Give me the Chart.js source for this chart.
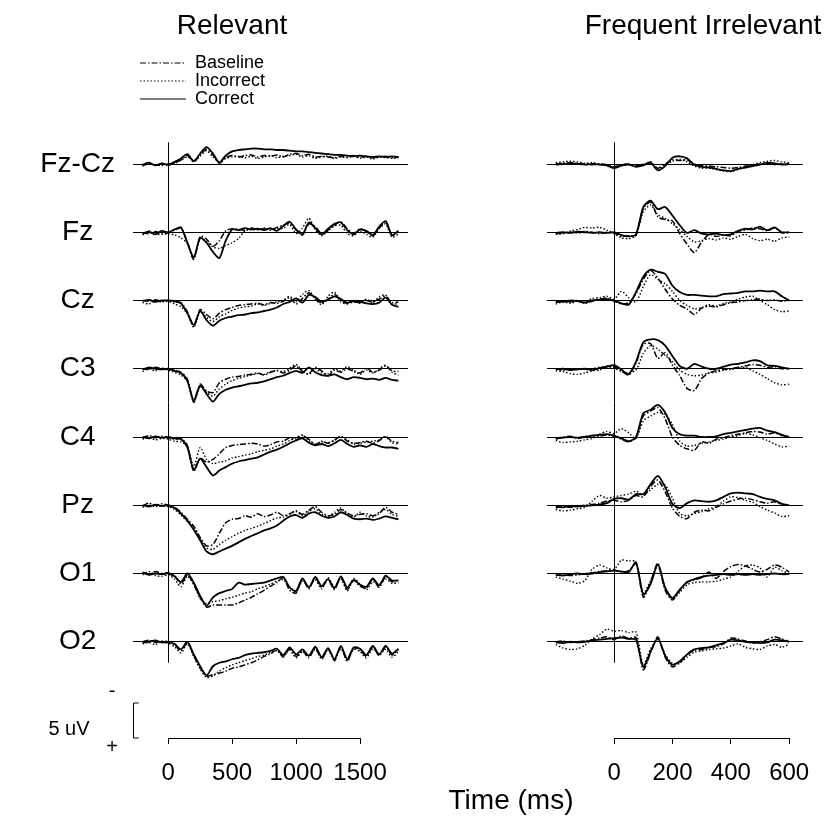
<!DOCTYPE html>
<html>
<head>
<meta charset="UTF-8">
<title>ERP Relevant / Frequent Irrelevant</title>
<script src="https://cdn.jsdelivr.net/npm/chart.js"></script>
<style>
  body { margin: 0; background: #fff; }
  #wrap { position: relative; width: 825px; height: 831px; font-family: "Liberation Sans", Arial, sans-serif; color: #000; }
  canvas { position: absolute; top: 0; }
  .lbl { position: absolute; transform: translate(-50%, -50%); white-space: nowrap; line-height: 1; }
</style>
</head>
<body>
<div id="wrap">
  <canvas id="relChart" width="420" height="831" style="left:0px"></canvas>
  <canvas id="irrChart" width="405" height="831" style="left:420px"></canvas>
  <div class="lbl" style="left:232px;top:25px;font-size:28px">Relevant</div>
  <div class="lbl" style="left:703px;top:25px;font-size:28px">Frequent Irrelevant</div>
  <div class="lbl" style="left:69px;top:728px;font-size:20px">5 uV</div>
  <div class="lbl" style="left:112px;top:690px;font-size:20px">-</div>
  <div class="lbl" style="left:112px;top:746px;font-size:20px">+</div>
  <div class="lbl" style="left:511px;top:800px;font-size:28px">Time (ms)</div>
</div>
<script>
var channels = ['Fz-Cz', 'Fz', 'Cz', 'C3', 'C4', 'Pz', 'O1', 'O2'];

// time points (ms)
var relTimes = [-200, -150, -100, -50, 0, 50, 100, 150, 200, 250, 300, 350, 400, 450, 500, 550, 600, 650, 700, 750,
                800, 850, 900, 950, 1000, 1050, 1100, 1150, 1200, 1250, 1300, 1350, 1400, 1450, 1500, 1550, 1600, 1650, 1700, 1750, 1800];
var irrTimes = [-200, -175, -150, -125, -100, -75, -50, -25, 0, 25, 50, 75, 100, 125, 150, 175, 200, 225, 250, 275,
                300, 325, 350, 375, 400, 425, 450, 475, 500, 525, 550, 575, 600];
var relTicks = [0, 500, 1000, 1500];
var irrTicks = [0, 200, 400, 600];

// amplitudes in uV (negative up), one row per channel
var relBaseline = [
  [0.2, 0.0, 0.1, 0.2, 0.0, -0.2, -0.6, -1.2, -0.3, -1.3, -2.1, -1.3, -0.1, -0.9, -1.2, -1.0, -1.2, -1.3, -1.0, -1.2, -1.1, -1.3, -1.0, -1.4, -1.5, -1.2, -1.4, -1.0, -1.1, -1.0, -0.9, -1.1, -1.0, -1.2, -1.0, -1.1, -0.9, -1.0, -1.1, -0.9, -1.0],
  [0.1, 0.2, -0.1, 0.2, 0.1, -0.3, -0.6, 1.4, 3.9, 0.6, 1.0, 2.0, 1.2, -0.2, -0.5, -0.4, -0.3, -0.6, -0.4, -0.5, -0.3, -0.7, -1.0, -1.3, -0.3, 0.4, -1.2, -0.8, 0.2, -0.3, -1.0, -1.5, -0.5, 0.2, -0.5, -0.1, 0.5, -0.6, -1.5, 0.5, -0.1],
  [0.0, 0.1, -0.1, 0.1, 0.0, 0.2, 0.3, 1.6, 3.7, 1.3, 2.0, 2.6, 1.8, 1.3, 1.0, 0.7, 0.6, 0.5, 0.4, 0.6, 0.3, 0.4, 0.1, -0.4, 0.5, -0.3, -1.1, -0.3, 0.4, -0.2, -0.9, 0.0, 0.4, 0.2, 0.3, 0.0, 0.2, -0.2, -0.6, 0.3, 0.2],
  [0.0, 0.1, -0.2, 0.0, 0.1, 0.2, 0.5, 1.5, 4.8, 2.2, 3.2, 3.4, 2.0, 1.5, 1.2, 1.1, 0.9, 0.8, 0.6, 0.9, 0.5, 0.3, 0.6, 0.2, -0.4, 0.4, 0.7, -0.2, 0.3, 1.0, 0.2, 0.5, 0.0, 0.4, 0.6, -0.1, 0.5, 0.2, -0.4, 0.3, 0.4],
  [0.1, -0.2, 0.1, -0.1, 0.1, 0.3, 0.2, 1.2, 4.9, 3.0, 3.6, 3.2, 2.4, 1.5, 1.2, 1.1, 1.0, 0.9, 1.0, 1.3, 1.1, 0.7, 0.6, 0.1, 0.4, -0.2, 0.3, 1.1, 0.6, 0.9, 0.4, -0.1, 0.6, 0.9, 0.8, 0.6, 0.9, 0.5, -0.1, 0.6, 0.8],
  [0.1, -0.3, 0.0, -0.2, 0.0, 0.3, 1.0, 2.0, 3.0, 4.6, 5.8, 5.6, 4.0, 2.5, 2.0, 1.9, 1.5, 1.7, 1.2, 1.6, 1.4, 1.0, 1.5, 1.2, 0.8, 1.3, 0.7, 0.2, 1.0, 1.5, 1.3, 0.6, 1.1, 1.5, 1.3, 1.2, 1.5, 1.2, 0.3, 1.0, 1.3],
  [-0.2, 0.1, -0.3, 0.0, -0.1, 0.3, 1.5, 0.2, 1.6, 3.4, 4.8, 4.5, 4.5, 4.5, 4.5, 4.2, 3.8, 3.4, 2.9, 2.4, 1.8, 1.3, 0.6, 2.4, 2.8, 0.8, 2.2, 0.6, 2.0, 0.9, 2.3, 0.5, 2.3, 1.0, 1.8, 2.1, 0.8, 2.0, 0.4, 1.2, 0.9],
  [0.0, -0.2, 0.1, -0.1, 0.0, 0.4, 1.3, 0.1, 2.0, 3.7, 4.9, 4.7, 4.5, 4.2, 3.8, 3.6, 3.3, 3.0, 2.6, 2.1, 1.7, 1.2, 2.2, 1.0, 2.1, 1.3, 2.3, 0.9, 2.5, 1.0, 2.7, 0.8, 2.8, 0.9, 1.2, 2.1, 0.7, 2.0, 0.8, 1.9, 1.1]
];
var relIncorrect = [
  [0.3, -0.1, 0.2, 0.0, 0.2, -0.1, -0.5, -1.0, -0.5, -1.1, -1.9, -1.0, -0.3, -0.8, -1.0, -1.1, -0.9, -1.1, -0.8, -1.0, -1.2, -0.9, -1.1, -1.2, -1.4, -1.0, -1.2, -0.8, -1.0, -1.1, -0.8, -1.0, -0.9, -1.1, -0.8, -1.0, -0.7, -1.0, -0.9, -0.8, -0.9],
  [0.4, -0.2, 0.3, 0.3, 0.2, 0.4, 0.8, 1.6, 3.5, 0.9, 1.3, 2.1, 2.3, 1.9, 1.5, 0.9, -0.2, -0.4, -0.3, -0.6, -0.4, -0.5, -0.6, -1.1, 0.2, -0.6, -2.0, -0.4, 0.5, -0.2, -0.9, -1.0, 0.2, 0.5, -0.2, 0.3, 0.7, -0.5, -1.2, 0.7, 0.3],
  [0.3, 0.5, 0.1, 0.2, 0.1, 0.5, 0.9, 1.9, 3.8, 1.6, 2.4, 3.0, 2.3, 1.9, 1.4, 1.1, 0.9, 0.8, 0.5, 0.7, 0.4, 0.2, 0.0, -0.6, 0.2, -0.9, -1.4, -0.2, 0.6, -0.6, -1.2, 0.2, 0.5, 0.0, 0.4, -0.2, 0.3, -0.5, -0.8, 0.5, 0.4],
  [0.4, 0.0, 0.3, -0.1, 0.2, 0.5, 0.9, 1.8, 4.4, 2.6, 3.4, 3.9, 2.9, 2.2, 1.7, 1.4, 1.1, 0.9, 0.7, 0.8, 0.4, 0.2, 0.4, -0.1, -0.6, 0.3, 0.8, 0.0, 0.6, 0.7, 0.0, 0.3, -0.3, 0.2, 0.8, 0.2, 0.6, 0.0, -0.5, 0.5, 0.9],
  [0.3, 0.1, 0.4, 0.2, 0.3, 0.6, 0.7, 1.3, 4.2, 1.5, 3.2, 3.8, 3.6, 3.4, 3.0, 2.8, 2.6, 2.4, 2.1, 1.9, 1.7, 1.3, 1.0, 0.5, 0.1, -0.3, 0.5, 1.0, 0.7, 0.8, 0.5, 0.0, 0.4, 1.0, 0.9, 0.7, 0.6, 0.4, 0.0, 0.8, 1.0],
  [0.3, 0.0, 0.2, 0.1, 0.2, 0.6, 1.4, 2.3, 3.2, 4.8, 6.1, 6.3, 5.6, 5.0, 4.5, 4.0, 3.6, 3.3, 3.0, 2.6, 2.2, 1.8, 1.7, 1.3, 0.9, 1.5, 0.9, 0.5, 1.3, 1.6, 1.0, 0.4, 1.3, 1.7, 1.0, 1.5, 1.7, 1.0, 0.6, 1.3, 1.6],
  [0.2, -0.3, 0.3, 0.4, 0.2, 0.8, 1.9, 0.4, 1.5, 3.6, 4.3, 4.0, 3.9, 3.6, 3.4, 3.1, 2.8, 2.6, 2.2, 1.9, 1.5, 1.1, 0.9, 1.9, 2.6, 1.1, 1.8, 0.9, 2.2, 0.6, 1.9, 0.8, 2.5, 0.7, 1.5, 2.3, 1.2, 1.5, 0.8, 1.4, 1.3],
  [0.3, 0.1, 0.4, 0.0, 0.2, 0.7, 1.6, 0.3, 2.1, 3.9, 5.1, 4.9, 4.2, 3.7, 3.3, 3.0, 2.7, 2.4, 2.1, 1.9, 1.5, 1.3, 2.0, 1.2, 2.3, 1.4, 2.0, 1.1, 2.3, 1.3, 2.4, 1.0, 2.6, 1.1, 1.4, 2.3, 1.0, 1.8, 1.1, 2.2, 1.4]
];
var relCorrect = [
  [0.1, -0.2, 0.2, -0.1, 0.1, -0.3, -0.8, -1.4, -0.4, -1.5, -2.4, -1.5, -0.2, -1.2, -1.8, -2.0, -2.1, -2.2, -2.2, -2.1, -2.1, -2.0, -2.0, -1.9, -1.8, -1.8, -1.7, -1.6, -1.5, -1.4, -1.3, -1.3, -1.2, -1.1, -1.2, -1.1, -1.0, -1.1, -1.0, -1.1, -1.0],
  [0.2, -0.1, 0.3, -0.2, 0.0, -0.4, -0.7, 1.5, 3.6, 0.8, 1.5, 2.8, 3.7, 1.2, -0.4, -0.3, -0.6, -0.4, -0.5, -0.3, -0.6, -0.2, -0.9, -1.5, -0.4, 0.3, -1.4, -0.6, 0.3, -0.5, -1.2, -1.4, -0.3, 0.3, -0.4, -0.2, 0.4, -0.8, -1.6, 0.4, -0.2],
  [0.1, -0.1, 0.2, 0.0, 0.0, 0.1, 0.4, 1.8, 3.5, 1.5, 2.8, 3.6, 2.9, 2.5, 2.3, 2.1, 2.0, 1.8, 1.7, 1.5, 1.3, 1.0, 0.5, 0.2, -0.3, 0.3, -0.8, -0.5, 0.2, -0.1, -0.6, -0.2, 0.3, 0.1, 0.2, 0.4, 0.5, 0.3, -0.4, 0.6, 0.9],
  [0.1, -0.2, 0.0, 0.1, 0.0, 0.3, 0.6, 1.7, 4.6, 2.4, 3.6, 4.7, 3.6, 3.0, 2.7, 2.5, 2.3, 2.1, 2.0, 1.8, 1.5, 1.2, 1.0, 0.6, 0.3, 0.6, -0.2, 0.5, 0.9, 1.0, 0.8, 1.2, 1.5, 1.2, 1.3, 1.5, 1.4, 1.6, 1.3, 1.6, 1.7],
  [0.0, 0.2, -0.1, 0.1, 0.0, 0.2, 0.3, 1.5, 4.7, 3.1, 4.3, 5.5, 4.8, 4.3, 3.8, 3.5, 3.3, 3.1, 2.9, 2.5, 2.1, 1.8, 1.4, 0.9, 0.5, 0.2, 0.8, 1.2, 1.0, 1.3, 0.9, 0.4, 1.0, 1.4, 1.2, 1.4, 1.0, 1.3, 1.5, 1.5, 1.7],
  [0.0, 0.2, -0.1, 0.1, 0.0, 0.4, 1.2, 2.2, 3.5, 5.0, 6.6, 7.0, 6.6, 6.2, 5.8, 5.3, 4.8, 4.4, 4.0, 3.6, 3.3, 2.9, 2.2, 1.6, 1.4, 1.8, 1.2, 1.0, 1.5, 1.8, 1.6, 1.0, 1.4, 1.9, 2.0, 1.9, 2.1, 1.9, 1.6, 1.8, 2.0],
  [-0.1, 0.2, 0.0, 0.1, 0.0, 0.4, 1.2, 0.0, 1.3, 3.2, 4.6, 3.4, 2.8, 2.5, 2.2, 1.3, 1.6, 1.5, 1.4, 1.3, 1.0, 0.7, 0.5, 2.0, 2.5, 0.7, 2.0, 0.5, 1.8, 0.8, 2.1, 0.4, 2.0, 0.9, 1.6, 1.9, 0.7, 1.7, 0.3, 1.0, 1.0],
  [0.1, 0.0, -0.2, 0.1, 0.1, 0.3, 1.1, 0.0, 1.8, 3.5, 4.8, 3.5, 3.0, 2.8, 2.5, 2.3, 1.9, 1.7, 1.6, 1.5, 1.3, 1.0, 1.9, 0.8, 1.8, 1.1, 2.0, 0.7, 2.2, 0.9, 2.5, 0.6, 2.5, 0.8, 1.0, 1.9, 0.6, 1.8, 0.6, 1.7, 1.0]
];

var irrBaseline = [
  [0.0, -0.1, -0.2, -0.1, 0.0, 0.1, 0.0, 0.1, 0.4, 0.1, 0.0, 0.2, 0.1, -0.3, 0.6, 0.0, -0.6, -0.5, -0.6, 0.0, 0.2, 0.3, 0.4, 0.5, 0.6, 0.5, 0.3, 0.2, 0.0, -0.1, 0.1, 0.0, 0.0],
  [0.2, 0.1, 0.0, 0.1, -0.1, 0.0, 0.2, 0.0, 0.1, 0.6, 0.5, 0.4, -3.4, -4.3, -2.2, -1.8, -1.6, 0.2, 1.7, 2.9, 1.4, 0.3, 0.6, 0.4, 0.5, -0.1, -0.3, -0.6, -0.5, -0.2, -0.6, 0.1, 0.0],
  [0.3, 0.1, 0.2, 0.0, 0.4, 0.1, -0.2, -0.3, 0.1, 0.5, 0.3, -1.0, -3.0, -4.3, -3.2, -1.6, -0.2, 0.7, 1.2, 2.0, 1.1, 0.8, 0.9, 0.6, 0.3, 0.2, 0.0, -0.1, -0.2, 0.0, -0.1, 0.1, 0.0],
  [0.0, 0.2, 0.1, 0.0, 0.1, 0.0, -0.2, -0.2, -0.3, 0.3, 0.9, -0.8, -3.5, -3.6, -1.5, -2.3, -0.5, 1.0, 2.8, 3.1, 1.4, 0.6, 0.3, 0.1, 0.0, -0.2, -0.4, -0.6, -0.5, -0.2, -0.3, 0.0, 0.0],
  [0.3, 0.0, -0.1, 0.2, -0.1, -0.2, -0.1, -0.3, -0.1, 0.3, 0.7, 0.1, -3.0, -3.7, -4.2, -2.6, 0.0, 1.2, 1.7, 1.9, 0.7, 0.9, 0.3, 0.1, -0.2, -0.4, -0.6, -0.8, -0.7, -0.4, -0.6, -0.2, 0.0],
  [0.4, 0.2, 0.3, 0.1, 0.0, -0.1, -0.3, -0.6, -0.7, -0.5, -0.7, -1.4, -1.2, -2.7, -3.6, -1.9, 0.4, 1.6, 1.9, 1.0, 0.7, 0.8, 0.3, -0.2, -0.6, -0.9, -1.0, -0.8, -0.5, -0.3, -0.5, -0.1, 0.0],
  [0.0, 0.1, 0.3, 0.2, 0.0, -0.1, -0.3, -0.4, -0.5, -0.2, -0.4, -1.4, 3.4, 1.2, -1.5, 2.4, 3.8, 2.4, 1.3, 0.9, 0.6, -0.2, 0.7, -0.3, -1.0, -1.3, -1.1, -0.6, -0.2, -0.6, -1.2, -0.9, -0.2],
  [0.0, -0.1, 0.1, 0.0, -0.1, -0.3, -0.5, -0.7, -0.3, -0.8, -0.5, -0.6, 4.0, 1.6, -0.7, 2.2, 3.6, 3.0, 1.9, 1.2, 1.1, 0.8, 0.7, 0.3, -0.5, -0.4, -0.1, 0.2, 0.0, -0.3, -0.7, -0.4, 0.0]
];
var irrIncorrect = [
  [-0.2, -0.3, -0.4, -0.3, -0.1, -0.2, 0.0, 0.2, 0.5, 0.3, 0.1, 0.3, 0.0, -0.1, 0.7, 0.2, -0.4, -0.7, -0.3, 0.3, 0.6, 0.6, 0.8, 1.0, 1.1, 0.8, 0.4, 0.1, -0.2, -0.4, -0.5, -0.3, -0.2],
  [0.3, 0.2, -0.2, -0.4, -0.7, -0.6, -0.7, -0.3, 0.2, 0.8, 0.9, 0.5, -2.9, -3.9, -2.5, -2.0, -1.2, -0.4, 0.6, 1.4, 1.2, 0.9, 1.1, 0.8, 1.0, 0.6, 0.3, 0.9, 1.2, 1.0, 1.3, 0.8, 0.7],
  [0.5, 0.2, 0.4, 0.1, 0.2, -0.3, -0.4, -0.6, -0.2, -1.3, -0.4, 0.2, -2.0, -3.7, -3.0, -2.4, -1.3, 0.0, 0.7, 1.2, 1.0, 0.6, 0.8, 0.4, 0.2, -0.2, -0.5, -0.6, 0.0, 0.6, 1.3, 1.6, 1.5],
  [0.3, 0.4, 0.7, 0.8, 0.6, 0.3, 0.2, -0.4, -0.1, 0.4, 0.6, 0.2, -2.2, -3.3, -2.8, -1.9, -1.0, 0.2, 0.8, 1.0, 0.9, 0.6, 0.5, 0.2, 0.1, -0.1, -0.2, 0.3, 0.8, 1.4, 2.0, 2.3, 2.2],
  [0.5, 0.8, 0.7, 0.6, 0.4, 0.2, -0.4, -0.8, -0.5, -1.2, -0.6, 0.2, -2.3, -3.0, -3.5, -3.2, -1.8, 0.6, 1.3, 1.2, 0.9, 0.7, 0.5, 0.3, 0.0, -0.2, -0.5, -0.3, 0.1, 0.5, 1.0, 1.4, 1.3],
  [0.6, 0.8, 0.7, 0.5, 0.3, -0.6, -1.4, -1.0, -1.2, -1.4, -1.6, -2.0, -1.5, -2.2, -3.0, -2.9, -1.0, 1.2, 1.5, 1.2, 0.9, 0.5, 0.2, -0.6, -1.2, -1.1, -0.7, -0.4, 0.2, 0.7, 1.1, 1.6, 1.5],
  [0.5, 0.8, 1.1, 1.4, 1.0, -0.6, -1.2, -0.8, -0.6, -1.9, -1.8, -1.7, 2.8, 1.0, -1.1, 2.2, 3.6, 2.7, 1.6, 1.3, 1.2, 1.2, 1.1, 0.8, 0.5, -0.3, -1.1, -1.2, -0.8, 0.5, -0.9, -0.4, 0.0],
  [0.4, 0.9, 1.1, 1.0, 0.5, -0.4, -1.0, -1.8, -1.5, -1.6, -1.3, -1.4, 3.3, 1.0, -0.3, 1.8, 3.1, 3.0, 2.2, 1.5, 1.3, 1.1, 1.0, 0.9, 0.6, 0.3, 0.8, 1.0, 1.1, 0.6, 0.4, 0.8, 0.3]
];
var irrCorrect = [
  [0.1, 0.0, -0.1, 0.0, 0.1, 0.0, 0.1, 0.2, 0.6, 0.2, 0.1, 0.4, 0.2, -0.2, 0.9, 0.3, -0.9, -1.1, -0.8, 0.1, 0.4, 0.5, 0.7, 0.9, 1.0, 0.7, 0.5, 0.3, 0.1, -0.2, -0.1, 0.1, 0.0],
  [0.1, 0.0, 0.1, -0.1, 0.0, 0.1, 0.0, 0.1, 0.0, 0.4, 0.6, 0.3, -3.6, -4.5, -3.3, -3.6, -2.4, -1.0, 0.1, -0.3, 0.2, 0.3, 0.2, 0.4, 0.3, -0.2, -0.5, -0.4, -0.8, -0.3, -0.7, 0.0, 0.0],
  [0.1, 0.2, 0.0, 0.1, 0.3, 0.0, -0.1, -0.2, 0.0, 0.4, 0.6, -1.2, -3.4, -4.4, -4.1, -3.8, -2.1, -1.2, -0.8, -0.8, -0.7, -0.6, -0.6, -0.9, -1.0, -1.1, -1.3, -1.3, -1.4, -1.3, -1.3, -0.6, 0.0],
  [0.1, 0.0, 0.2, 0.1, 0.0, 0.2, -0.1, -0.3, -0.5, 0.1, 0.8, -1.0, -3.8, -4.2, -4.1, -3.3, -1.8, -0.4, 0.0, -0.7, -0.3, 0.0, 0.0, -0.3, -0.6, -0.7, -0.9, -1.2, -1.1, -0.5, -0.4, -0.2, 0.0],
  [0.2, 0.1, 0.0, 0.1, 0.0, -0.2, -0.3, -0.4, -0.2, 0.2, 0.6, 0.0, -3.4, -3.9, -4.6, -3.5, -1.3, -0.4, -0.2, -0.2, 0.0, 0.0, -0.1, -0.4, -0.6, -0.8, -1.0, -1.2, -1.3, -0.9, -0.7, -0.3, 0.0],
  [0.2, 0.3, 0.1, 0.2, 0.1, 0.0, -0.1, -0.3, -0.9, -1.0, -0.8, -1.6, -1.6, -3.0, -4.2, -2.6, -0.2, 0.4, -0.3, -0.7, -0.6, -0.5, -0.7, -1.2, -1.7, -1.8, -1.7, -1.6, -1.2, -0.9, -0.7, -0.2, 0.0],
  [0.2, 0.3, 0.1, 0.0, 0.1, 0.0, -0.2, -0.3, -0.4, -0.3, -0.2, -1.6, 3.0, 1.5, -1.3, 2.0, 3.5, 2.3, 1.2, 0.8, 0.5, 0.3, 0.2, 0.1, 0.2, 0.1, 0.2, 0.1, 0.2, 0.1, 0.0, 0.1, 0.1],
  [0.1, 0.2, 0.0, 0.1, 0.0, -0.2, -0.3, -0.4, -0.5, -0.6, -0.4, -0.3, 3.6, 1.4, -0.5, 2.0, 3.3, 2.8, 1.8, 1.1, 0.9, 0.8, 0.5, 0.2, -0.3, -0.2, 0.0, 0.1, 0.2, 0.1, -0.3, -0.2, 0.0]
];

var FONT = '"Liberation Sans", Arial, sans-serif';
var channelGap = 9.75;          // uV between stacked channels
var pxPerUv = 7;
var yMin = -124 / pxPerUv;      // chart area top
var yMax = 574 / pxPerUv;       // chart area bottom (time axis)

var conds = [
  { label: 'Baseline', dash: [6, 2, 1.5, 2], width: 1.5 },
  { label: 'Incorrect', dash: [1.5, 2], width: 1.4 },
  { label: 'Correct', dash: [], width: 1.8 }
];

function buildDatasets(times, rows) {
  var sets = [];
  for (var k = 0; k < channels.length; k++) {
    var off = k * channelGap;
    for (var c = 0; c < conds.length; c++) {
      sets.push({
        label: conds[c].label,
        data: rows[c][k].map(function (v, i) { return { x: times[i], y: v + off }; }),
        borderColor: '#000',
        borderWidth: conds[c].width,
        borderDash: conds[c].dash,
        pointRadius: 0,
        tension: 0.25,
        fill: false
      });
    }
  }
  return sets;
}

var framePlugin = {
  id: 'erpFrame',
  afterLayout: function (chart, args, opts) {
    if (opts.legendAt && chart.legend) {
      var lg = chart.legend;
      lg.left = opts.legendAt.x;
      lg.top = opts.legendAt.y;
      lg.right = lg.left + lg.width;
      lg.bottom = chart.chartArea.bottom;
    }
  },
  beforeDatasetsDraw: function (chart, args, opts) {
    var xs = chart.scales.x, ys = chart.scales.y, ctx = chart.ctx;
    var last = (channels.length - 1) * channelGap;
    ctx.save();
    ctx.strokeStyle = '#000';
    ctx.lineWidth = 1;
    ctx.beginPath();
    var x0 = Math.round(xs.getPixelForValue(0)) + 0.5;
    ctx.moveTo(x0, ys.getPixelForValue(-3.1));
    ctx.lineTo(x0, ys.getPixelForValue(last + 3.0));
    var ay = Math.round(chart.chartArea.bottom) + 0.5;
    ctx.moveTo(xs.getPixelForValue(opts.axisFrom), ay);
    ctx.lineTo(xs.getPixelForValue(opts.axisTo), ay);
    if (opts.scaleBar) {
      var bx = Math.round(chart.chartArea.left) + 0.5;
      var top = ys.getPixelForValue(last + 8.75), bot = ys.getPixelForValue(last + 8.75 + 5);
      ctx.moveTo(bx + 5, top); ctx.lineTo(bx, top); ctx.lineTo(bx, bot); ctx.lineTo(bx + 5, bot);
    }
    ctx.stroke();
    ctx.restore();
  }
};

function makeChart(id, times, rows, ticks, xMin, xMax, axisW, padRight, isLeft) {
  return new Chart(document.getElementById(id), {
    type: 'line',
    data: { datasets: buildDatasets(times, rows) },
    plugins: [framePlugin],
    options: {
      responsive: false,
      animation: false,
      events: [],
      layout: { padding: { top: 40, right: padRight, bottom: 0, left: 0 } },
      plugins: {
        tooltip: { enabled: false },
        erpFrame: {
          axisFrom: ticks[0], axisTo: ticks[ticks.length - 1], scaleBar: isLeft,
          legendAt: isLeft ? { x: 140, y: 54 } : null
        },
        legend: {
          display: isLeft,
          position: 'chartArea',
          align: 'start',
          labels: {
            usePointStyle: true,
            pointStyle: 'line',
            pointStyleWidth: 46,
            padding: 0,
            color: '#000',
            font: { family: FONT, size: 18 },
            filter: function (item) { return item.datasetIndex < 3; },
            generateLabels: function (chart) {
              var items = Chart.defaults.plugins.legend.labels.generateLabels(chart);
              return items.map(function (it) {
                var ds = chart.data.datasets[it.datasetIndex];
                it.lineDash = ds.borderDash;
                it.lineWidth = 1.2;
                it.strokeStyle = '#000';
                return it;
              });
            }
          }
        }
      },
      scales: {
        x: {
          type: 'linear', min: xMin, max: xMax, position: 'bottom',
          afterBuildTicks: function (s) { s.ticks = ticks.map(function (v) { return { value: v }; }); },
          afterFit: function (s) { s.height = 93; },
          border: { display: false },
          grid: { drawOnChartArea: false, drawTicks: true, tickLength: 6, color: '#000' },
          ticks: {
            autoSkip: false, maxRotation: 0, padding: 15, color: '#000',
            font: { family: FONT, size: 24 },
            callback: function (v) { return String(v); }
          }
        },
        y: {
          type: 'linear', reverse: true, min: yMin, max: yMax,
          afterBuildTicks: function (s) { s.ticks = channels.map(function (c, k) { return { value: k * channelGap }; }); },
          afterFit: function (s) { s.width = axisW; },
          border: { display: false },
          grid: { color: '#000', lineWidth: 1, drawTicks: false },
          ticks: {
            display: isLeft, padding: 18, crossAlign: 'center', color: '#000',
            font: { family: FONT, size: 28 },
            callback: function (v) { return channels[Math.round(v / channelGap)]; }
          }
        }
      }
    }
  });
}

var relChart = makeChart('relChart', relTimes, [relBaseline, relIncorrect, relCorrect], relTicks, -275, 1875, 133, 12, true);
var irrChart = makeChart('irrChart', irrTimes, [irrBaseline, irrIncorrect, irrCorrect], irrTicks, -230, 647, 127, 15, false);
</script>
</body>
</html>
